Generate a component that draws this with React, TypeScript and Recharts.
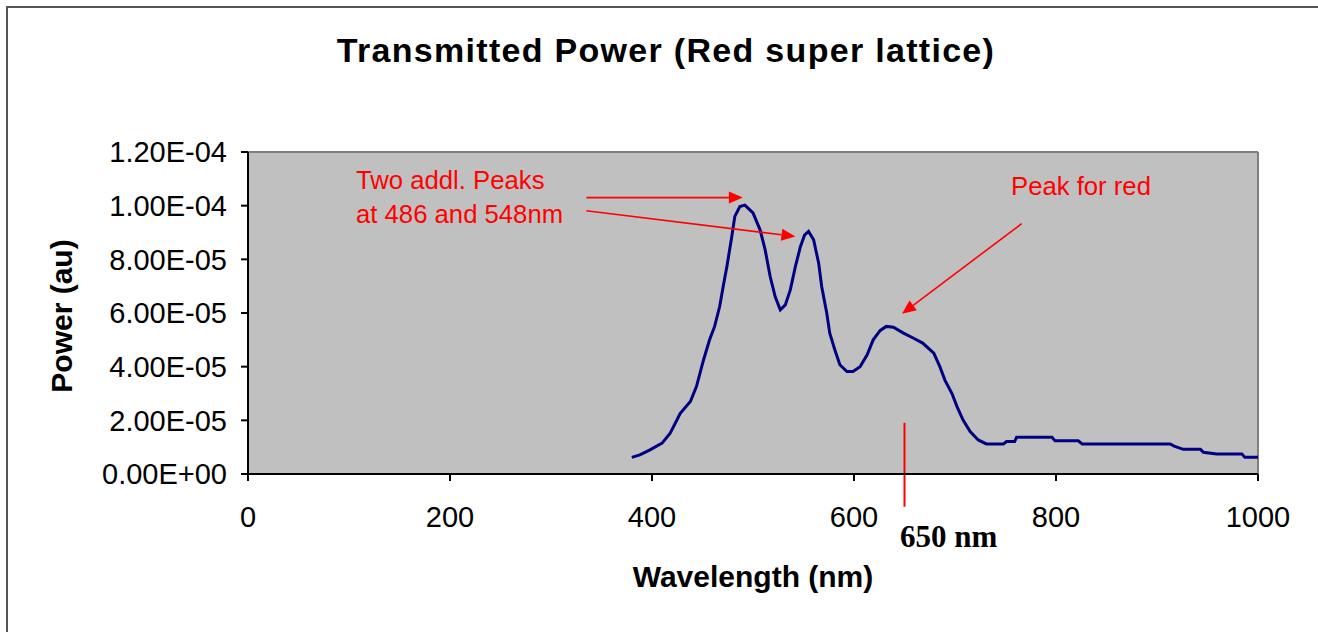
import {
  LineChart,
  Line,
  XAxis,
  YAxis,
  CartesianGrid,
  ReferenceLine,
} from 'recharts';

// wavelength (nm) and transmitted power (in units of 1e-5 au)
const wavelengths = [
  380, 388, 398, 410, 418, 428, 438, 444, 451, 457, 462, 467, 471, 474, 479,
  482, 487, 492, 500, 507, 512, 517, 522, 527, 532, 537, 542, 547, 551, 555,
  560, 565, 568, 573, 576, 581, 586, 593, 599, 606, 613, 619, 626, 632, 639,
  649, 659, 668, 679, 685, 690, 697, 702, 708, 715, 723, 731, 748, 751, 759,
  761, 796, 799, 822, 826, 913, 917, 926, 943, 946, 959, 984, 987, 1000,
];
const powerE5 = [
  0.62, 0.71, 0.9, 1.15, 1.52, 2.26, 2.7, 3.26, 4.25, 5.0, 5.5, 6.24, 7.1, 7.7, 8.85,
  9.6, 9.97, 10.02, 9.73, 9.1, 8.36, 7.36, 6.6, 6.12, 6.3, 6.87, 7.74, 8.48, 8.9, 9.04,
  8.73, 7.86, 6.99, 6.0, 5.25, 4.63, 4.07, 3.82, 3.82, 4.0, 4.44, 5.0, 5.35, 5.5, 5.47,
  5.25, 5.06, 4.88, 4.5, 4.0, 3.5, 3.0, 2.51, 2.01, 1.58, 1.27, 1.12, 1.12, 1.21, 1.21,
  1.37, 1.37, 1.24, 1.24, 1.12, 1.12, 1.04, 0.92, 0.92, 0.81, 0.75, 0.75, 0.62, 0.62,
];

const xTicks = [0, 200, 400, 600, 800, 1000];
const yTicks = [0, 2e-5, 4e-5, 6e-5, 8e-5, 1e-4, 1.2e-4];

const data = wavelengths.map((w, i) => ({ wavelength: w, power: powerE5[i] * 1e-5 }));

const SANS = '"Liberation Sans", Arial, sans-serif';
const RED = '#ff0000';

const fmtSci = (v: number) => {
  const [m, e] = v.toExponential(2).split('e');
  const n = parseInt(e, 10);
  return `${m}E${n < 0 ? '-' : '+'}${String(Math.abs(n)).padStart(2, '0')}`;
};

// line with a filled arrow head at the second end point
const Arrow = (props: any) => {
  const { x1, y1, x2, y2 } = props;
  const a = Math.atan2(y2 - y1, x2 - x1);
  const len = 14;
  const half = 6;
  const bx = x2 - len * Math.cos(a);
  const by = y2 - len * Math.sin(a);
  const px = -Math.sin(a) * half;
  const py = Math.cos(a) * half;
  return (
    <g>
      <line x1={x1} y1={y1} x2={bx} y2={by} stroke={RED} strokeWidth={1.6} />
      <polygon
        points={`${x2},${y2} ${bx + px},${by + py} ${bx - px},${by - py}`}
        fill={RED}
      />
    </g>
  );
};

export default function App() {
  return (
    <div
      style={{
        position: 'fixed',
        left: 0,
        top: 0,
        width: 1318,
        height: 632,
        overflow: 'hidden',
        background: '#fff',
      }}
    >
      <svg
        width={1318}
        height={632}
        style={{ position: 'absolute', left: 0, top: 0 }}
      >
        {/* outer chart frame, running off the right and bottom edges */}
        <path d="M7 700 V7 H1400" fill="none" stroke="#555" strokeWidth={2} />
      </svg>
      <LineChart
        width={1318}
        height={632}
        data={data}
        margin={{ top: 152, right: 60, bottom: 38, left: 8 }}
        style={{ position: 'absolute', left: 0, top: 0 }}
      >
        <CartesianGrid fill="#c0c0c0" stroke="none" horizontal={false} vertical={false} />
        <XAxis
          dataKey="wavelength"
          type="number"
          domain={[0, 1000]}
          ticks={xTicks}
          height={120}
          stroke="#000"
          strokeWidth={2}
          tickSize={7}
          tickMargin={25}
          tick={{ fill: '#000', fontSize: 29, fontFamily: SANS }}
          label={{
            content: ({ viewBox }: any) => (
              <text
                x={viewBox.x + viewBox.width / 2}
                y={viewBox.y + 113}
                textAnchor="middle"
                fontSize={30}
                fontWeight="bold"
                fontFamily={SANS}
                fill="#000"
              >
                Wavelength (nm)
              </text>
            ),
          }}
        />
        <YAxis
          type="number"
          domain={[0, 1.2e-4]}
          ticks={yTicks}
          width={240}
          stroke="#000"
          strokeWidth={2}
          tickSize={7}
          tickMargin={14}
          tickFormatter={fmtSci}
          tick={{ fill: '#000', fontSize: 29, fontFamily: SANS }}
          label={{
            content: ({ viewBox }: any) => {
              const cx = viewBox.x + 64;
              const cy = viewBox.y + viewBox.height / 2 + 3;
              return (
                <text
                  x={cx}
                  y={cy}
                  transform={`rotate(-90, ${cx}, ${cy})`}
                  textAnchor="middle"
                  fontSize={30}
                  fontWeight="bold"
                  fontFamily={SANS}
                  fill="#000"
                >
                  Power (au)
                </text>
              );
            },
          }}
        />
        <ReferenceLine y={1.2e-4} stroke="#808080" strokeWidth={2} />
        <ReferenceLine x={1000} stroke="#808080" strokeWidth={2} />
        <Line
          type="linear"
          dataKey="power"
          stroke="#000080"
          strokeWidth={3}
          dot={false}
          isAnimationActive={false}
        />
        <ReferenceLine
          segment={[{ x: 335, y: 1.03e-4 }, { x: 490, y: 1.03e-4 }]}
          shape={Arrow}
        />
        <ReferenceLine
          segment={[{ x: 335, y: 9.81e-5 }, { x: 542, y: 8.85e-5 }]}
          shape={Arrow}
        />
        <ReferenceLine
          segment={[{ x: 766, y: 9.33e-5 }, { x: 647.5, y: 5.97e-5 }]}
          shape={Arrow}
        />
        <ReferenceLine
          segment={[{ x: 650, y: 1.91e-5 }, { x: 650, y: -1.22e-5 }]}
          stroke={RED}
          strokeWidth={2}
          ifOverflow="visible"
        />
      </LineChart>
      <svg
        width={1318}
        height={632}
        style={{ position: 'absolute', left: 0, top: 0, pointerEvents: 'none' }}
      >
        <text
          x={666}
          y={62}
          textAnchor="middle"
          fontSize={34}
          fontWeight="bold"
          letterSpacing={1.3}
          fontFamily={SANS}
          fill="#000"
        >
          Transmitted Power (Red super lattice)
        </text>
        <text x={356} y={189} fontSize={25.7} fontFamily={SANS} fill={RED}>
          Two addl. Peaks
        </text>
        <text x={356} y={223} fontSize={25.7} fontFamily={SANS} fill={RED}>
          at 486 and 548nm
        </text>
        <text x={1011} y={195} fontSize={25.7} fontFamily={SANS} fill={RED}>
          Peak for red
        </text>
        <text
          x={900}
          y={547}
          fontSize={31}
          fontWeight="bold"
          fontFamily='"Liberation Serif", "Times New Roman", serif'
          fill="#000"
        >
          650 nm
        </text>
      </svg>
    </div>
  );
}
